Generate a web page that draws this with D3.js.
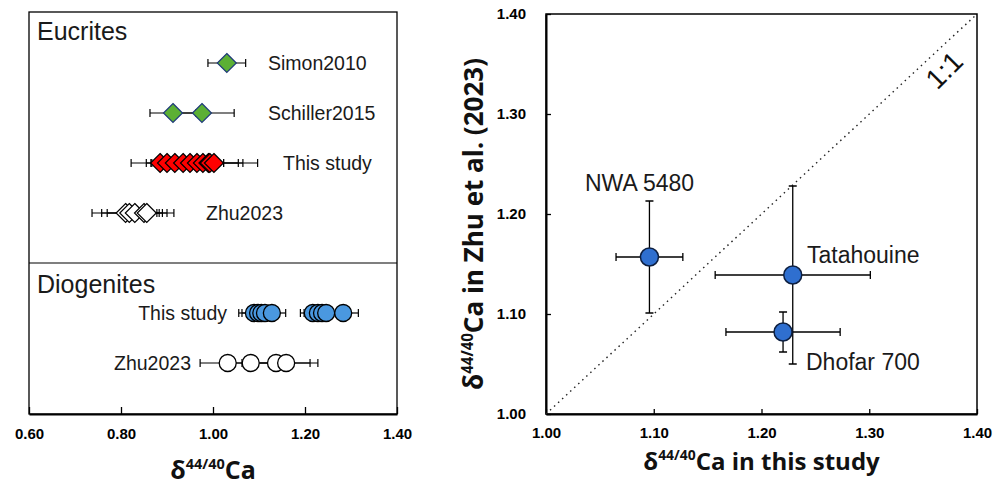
<!DOCTYPE html>
<html>
<head>
<meta charset="utf-8">
<script src="https://cdn.jsdelivr.net/npm/d3@7"></script>
<style>
  body { margin: 0; background: #fff; }
  svg { display: block; }
</style>
</head>
<body>
<svg id="chart" width="1008" height="490"></svg>
<script>
// left panel rows: [value, 2sd]
const simon2010 = [[1.030, 0.041]];
const schiller2015 = [[0.913, 0.050], [0.976, 0.070]];
const eucThisStudy = [[0.885, 0.030], [0.900, 0.078], [0.917, 0.050], [0.935, 0.040], [0.950, 0.060],
  [0.965, 0.100], [0.978, 0.045], [0.990, 0.065], [0.993, 0.030], [1.002, 0.095]];
const eucZhu2023 = [[0.810, 0.073], [0.818, 0.060], [0.830, 0.060], [0.850, 0.050], [0.856, 0.059]];
const dioThisStudy = [[1.089, 0.033], [1.098, 0.035], [1.105, 0.030], [1.113, 0.030], [1.128, 0.030],
  [1.217, 0.027], [1.228, 0.030], [1.237, 0.030], [1.246, 0.030], [1.283, 0.033]];
const dioZhu2023 = [[1.032, 0.060], [1.082, 0.050], [1.137, 0.074], [1.159, 0.069]];
const leftTicks = [0.60, 0.80, 1.00, 1.20, 1.40];

// right panel: this study vs Zhu et al. (2023)
const samples = ["NWA 5480", "Tatahouine", "Dhofar 700"];
const thisStudy = [1.096, 1.229, 1.220];
const thisStudyErr = [0.031, 0.072, 0.053];
const zhu = [1.157, 1.139, 1.082];
const zhuErr = [0.056, 0.089, 0.020];
const rightTicks = [1.00, 1.10, 1.20, 1.30, 1.40];

const svg = d3.select("#chart");
const boldFont = "'Liberation Sans', Arial, sans-serif";
const titleFont = "'Open Sans', sans-serif";

// ---------- left panel ----------
const xL = d3.scaleLinear().domain([0.6, 1.4]).range([29, 397]);
const row = d3.scaleLinear().domain([0, 6]).range([63, 363]);
const left = svg.append("g");

left.append("rect")
  .attr("x", xL(0.6)).attr("y", 12)
  .attr("width", xL(1.4) - xL(0.6)).attr("height", 414 - 12)
  .attr("fill", "none").attr("stroke", "#000").attr("stroke-width", 1.3);
left.append("line")
  .attr("x1", xL(0.6)).attr("x2", xL(1.4)).attr("y1", 263).attr("y2", 263)
  .attr("stroke", "#000").attr("stroke-width", 1.2);

left.append("g")
  .attr("transform", "translate(0,414)")
  .call(d3.axisBottom(xL).tickValues(leftTicks).tickSizeInner(-7).tickSizeOuter(0).tickPadding(14).tickFormat(d3.format(".2f")))
  .call(g => g.select(".domain").attr("stroke-width", 2))
  .call(g => g.selectAll(".tick line").attr("stroke-width", 1.3))
  .call(g => g.selectAll("text").attr("font-family", boldFont).attr("font-weight", "bold").attr("font-size", 15).attr("fill", "#000"));

function errBars(g, data, y) {
  g.selectAll(null).data(data).join("line")
    .attr("x1", d => xL(d[0] - d[1])).attr("x2", d => xL(d[0] + d[1]))
    .attr("y1", y).attr("y2", y).attr("stroke", "#000").attr("stroke-width", 1.2);
  g.selectAll(null).data(data.flatMap(d => [d[0] - d[1], d[0] + d[1]])).join("line")
    .attr("x1", d => xL(d)).attr("x2", d => xL(d))
    .attr("y1", y - 4).attr("y2", y + 4).attr("stroke", "#000").attr("stroke-width", 1.2);
}

function diamonds(data, i, fill, stroke) {
  const g = left.append("g");
  const y = row(i);
  errBars(g, data, y);
  g.selectAll(null).data(data).join("path")
    .attr("d", d => `M${xL(d[0])},${y - 9.5}L${xL(d[0]) + 9.5},${y}L${xL(d[0])},${y + 9.5}L${xL(d[0]) - 9.5},${y}Z`)
    .attr("fill", fill).attr("stroke", stroke).attr("stroke-width", 1.2);
}

function circles(data, i, fill, stroke) {
  const g = left.append("g");
  const y = row(i);
  errBars(g, data, y);
  g.selectAll(null).data(data).join("circle")
    .attr("cx", d => xL(d[0])).attr("cy", y).attr("r", 8.5)
    .attr("fill", fill).attr("stroke", stroke).attr("stroke-width", 1.3);
}

diamonds(simon2010, 0, "#5cb034", "#1f3a7a");
diamonds(schiller2015, 1, "#5cb034", "#1f3a7a");
diamonds(eucThisStudy, 2, "#ff0000", "#000");
diamonds(eucZhu2023, 3, "#fff", "#000");
circles(dioThisStudy, 5, "#4a98e0", "#000");
circles(dioZhu2023, 6, "#fff", "#000");

const lblFont = "'Liberation Sans', Arial, sans-serif";
function label(text, x, y, size, anchor) {
  svg.append("text").attr("x", x).attr("y", y).attr("dy", "0.35em")
    .attr("font-family", lblFont).attr("font-size", size).attr("fill", "#1a1a1a")
    .attr("text-anchor", anchor || "start").text(text);
}
label("Eucrites", 37, 31, 25);
label("Simon2010", 268, row(0), 19.5);
label("Schiller2015", 268, row(1), 19.5);
label("This study", 283, row(2), 19.5);
label("Zhu2023", 206, row(3), 19.5);
label("Diogenites", 37, 284, 25);
label("This study", 227, row(5), 19.5, "end");
label("Zhu2023", 191, row(6), 19.5, "end");

function deltaTitle(g, x, y, rest, size, rotate) {
  const t = g.append("text")
    .attr("font-family", titleFont).attr("font-weight", "bold").attr("font-size", size)
    .attr("fill", "#111").attr("text-anchor", "middle")
    .attr("transform", `translate(${x},${y})` + (rotate ? " rotate(-90)" : ""));
  t.append("tspan").text("δ");
  t.append("tspan").attr("font-size", size * 0.58).attr("dy", -size * 0.4).text("44/40");
  t.append("tspan").attr("dy", size * 0.4).text("Ca" + rest);
}
deltaTitle(svg, xL(1.0), 479, "", 25, false);

// ---------- right panel ----------
const xR = d3.scaleLinear().domain([1.0, 1.4]).range([546, 977]);
const yR = d3.scaleLinear().domain([1.0, 1.4]).range([414, 14]);
const right = svg.append("g");

right.append("rect")
  .attr("x", xR(1.0)).attr("y", yR(1.4))
  .attr("width", xR(1.4) - xR(1.0)).attr("height", yR(1.0) - yR(1.4))
  .attr("fill", "none").attr("stroke", "#000").attr("stroke-width", 1.5);

const tickStyle = g => g
  .call(g => g.select(".domain").attr("stroke-width", 2))
  .call(g => g.selectAll(".tick line").attr("stroke-width", 1.3))
  .call(g => g.selectAll("text").attr("font-family", boldFont).attr("font-weight", "bold").attr("font-size", 15).attr("fill", "#000"));

right.append("g")
  .attr("transform", `translate(0,${yR(1.0)})`)
  .call(d3.axisBottom(xR).tickValues(rightTicks).tickSizeInner(-5).tickSizeOuter(0).tickPadding(13).tickFormat(d3.format(".2f")))
  .call(tickStyle);
right.append("g")
  .attr("transform", `translate(${xR(1.0)},0)`)
  .call(d3.axisLeft(yR).tickValues(rightTicks).tickSizeInner(-5).tickSizeOuter(0).tickPadding(20).tickFormat(d3.format(".2f")))
  .call(tickStyle);

right.append("line")
  .attr("x1", xR(1.0)).attr("y1", yR(1.0)).attr("x2", xR(1.4)).attr("y2", yR(1.4))
  .attr("stroke", "#222").attr("stroke-width", 1.4).attr("stroke-dasharray", "1.5,4");

const pts = samples.map((s, i) => ({ s, x: thisStudy[i], ex: thisStudyErr[i], y: zhu[i], ey: zhuErr[i] }));
const pg = right.append("g").attr("stroke", "#000").attr("stroke-width", 1.3);
pts.forEach(d => {
  const cx = xR(d.x), cy = yR(d.y);
  const x0 = xR(d.x - d.ex), x1 = xR(d.x + d.ex);
  const y0 = yR(d.y - d.ey), y1 = yR(d.y + d.ey);
  pg.append("path").attr("fill", "none")
    .attr("d", `M${x0},${cy}H${x1}M${x0},${cy - 4}V${cy + 4}M${x1},${cy - 4}V${cy + 4}` +
      `M${cx},${y0}V${y1}M${cx - 4},${y0}H${cx + 4}M${cx - 4},${y1}H${cx + 4}`);
});
pg.selectAll("circle").data(pts).join("circle")
  .attr("cx", d => xR(d.x)).attr("cy", d => yR(d.y)).attr("r", 9)
  .attr("fill", "#2f6fcf").attr("stroke", "#0d1f40").attr("stroke-width", 1.5);

label("NWA 5480", 585, 183, 23);
label("Tatahouine", 807, 255, 23);
label("Dhofar 700", 806, 362, 23);

svg.append("text")
  .attr("transform", `translate(944,70) rotate(-45)`)
  .attr("text-anchor", "middle").attr("dy", "0.35em")
  .attr("font-family", lblFont).attr("font-size", 28).attr("fill", "#111")
  .text("1:1");

deltaTitle(svg, xR(1.2), 470, " in this study", 24, false);
deltaTitle(svg, 483, 224, " in Zhu et al. (2023)", 26, true);
</script>
</body>
</html>
